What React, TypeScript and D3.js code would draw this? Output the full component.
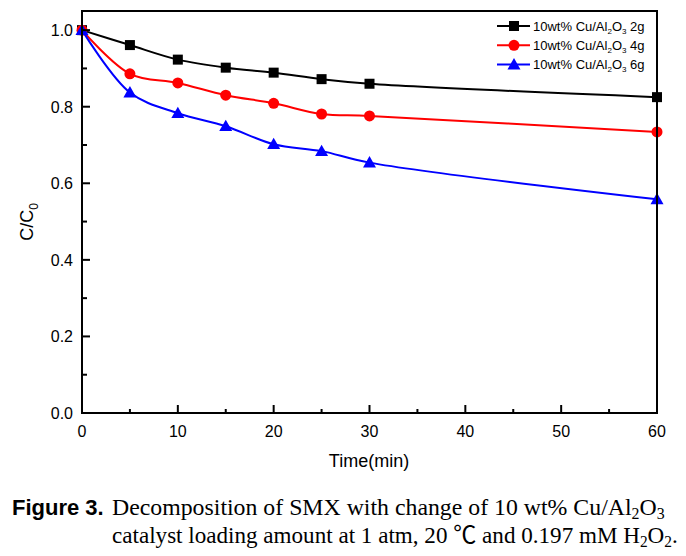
import React, { useEffect, useRef, useState } from "react";
import * as d3 from "d3";

const times = [0, 5, 10, 15, 20, 25, 30, 60];
const load2g = [1.0, 0.961, 0.923, 0.902, 0.889, 0.872, 0.86, 0.825];
const load4g = [1.0, 0.886, 0.862, 0.83, 0.809, 0.781, 0.776, 0.734];
const load6g = [1.0, 0.837, 0.783, 0.749, 0.702, 0.684, 0.654, 0.558];
const seriesNames = ["2g", "4g", "6g"];
const xTicks = [0, 10, 20, 30, 40, 50, 60];
const yTicks = [0.0, 0.2, 0.4, 0.6, 0.8, 1.0];

const W = 686, H = 556;
const L = 82, R = 657, T = 11, B = 413;

export default function App() {
  const x = d3.scaleLinear().domain([0, 60]).range([L, R]);
  const y = d3.scaleLinear().domain([0, 1.05]).range([B, T]);
  const colors = ["#000000", "#ff0000", "#0000ff"];
  const allSeries = [load2g, load4g, load6g];
  const line = d3
    .line<[number, number]>()
    .x((d) => x(d[0]))
    .y((d) => y(d[1]))
    .curve(d3.curveCatmullRom.alpha(0.5));

  const minorX = d3.range(5, 60, 10);
  const minorY = d3.range(0.1, 1.0, 0.2);

  const cap1 = useRef<SVGTextElement>(null);
  const cap2 = useRef<SVGTextElement>(null);
  const [sc, setSc] = useState<[number, number]>([1, 1]);
  useEffect(() => {
    const w1 = cap1.current ? cap1.current.getBBox().width : 553;
    const w2 = cap2.current ? cap2.current.getBBox().width : 566;
    setSc([553 / w1, 566 / w2]);
  }, []);

  const marker = (i: number, cx: number, cy: number, key: string) => {
    const c = colors[i];
    if (i === 0) return <rect key={key} x={cx - 5} y={cy - 5} width={10} height={10} fill={c} />;
    if (i === 1) return <circle key={key} cx={cx} cy={cy} r={5.5} fill={c} />;
    const s = 6.5;
    return (
      <path
        key={key}
        d={`M${cx},${cy - s}L${cx + s},${cy + s * 0.75}L${cx - s},${cy + s * 0.75}Z`}
        fill={c}
      />
    );
  };

  const sans = "'Liberation Sans', Arial, sans-serif";
  const serif = "'Liberation Serif', 'Times New Roman', 'Noto Sans CJK KR', serif";

  return (
    <svg width={W} height={H} style={{ position: "absolute", left: 0, top: 0, background: "#fff" }}>
      <rect width={W} height={H} fill="#fff" />
      {allSeries.map((vals, i) => (
        <g key={"s" + i}>
          <path
            d={line(times.map((t, j) => [t, vals[j]]) as [number, number][]) || ""}
            fill="none"
            stroke={colors[i]}
            strokeWidth={2}
          />
          {times.map((t, j) => marker(i, x(t), y(vals[j]), "m" + i + "-" + j))}
        </g>
      ))}
      <rect x={L} y={T} width={R - L} height={B - T} fill="none" stroke="#000" strokeWidth={2} />
      {xTicks.map((t) => (
        <g key={"xt" + t}>
          <line x1={x(t)} x2={x(t)} y1={B} y2={B - 8} stroke="#000" strokeWidth={2} />
          <text x={x(t)} y={437} textAnchor="middle" fontFamily={sans} fontSize={16}>
            {t}
          </text>
        </g>
      ))}
      {minorX.map((t) => (
        <line key={"xm" + t} x1={x(t)} x2={x(t)} y1={B} y2={B - 4} stroke="#000" strokeWidth={2} />
      ))}
      {yTicks.map((t) => (
        <g key={"yt" + t}>
          <line x1={L} x2={L + 8} y1={y(t)} y2={y(t)} stroke="#000" strokeWidth={2} />
          <text x={73} y={y(t) + 6} textAnchor="end" fontFamily={sans} fontSize={16}>
            {t.toFixed(1)}
          </text>
        </g>
      ))}
      {minorY.map((t) => (
        <line key={"ym" + t} x1={L} x2={L + 5} y1={y(t)} y2={y(t)} stroke="#000" strokeWidth={2} />
      ))}
      <text x={369} y={467} textAnchor="middle" fontFamily={sans} fontSize={18}>
        Time(min)
      </text>
      <text transform="translate(33,222) rotate(-90)" textAnchor="middle" fontFamily={sans} fontSize={18}>
        C/C
        <tspan fontSize={12} dy={5}>0</tspan>
      </text>
      {seriesNames.map((n, i) => {
        const ly = 26 + i * 19.3;
        return (
          <g key={"lg" + i}>
            <line x1={497} x2={530} y1={ly} y2={ly} stroke={colors[i]} strokeWidth={2} />
            {marker(i, 514, ly, "lm" + i)}
            <text x={533} y={ly + 4.5} fontFamily={sans} fontSize={13}>
              10wt% Cu/Al
              <tspan fontSize={8} dy={3}>2</tspan>
              <tspan dy={-3}>O</tspan>
              <tspan fontSize={8} dy={3}>3</tspan>
              <tspan dy={-3}> {n}</tspan>
            </text>
          </g>
        );
      })}
      <text x={12} y={515} fontFamily={sans} fontWeight="bold" fontSize={22}>
        Figure 3.
      </text>
      <g transform={`translate(112,515) scale(${sc[0]},1)`}>
        <text ref={cap1} x={0} y={0} fontFamily={serif} fontSize={24}>
          Decomposition of SMX with change of 10 wt% Cu/Al
          <tspan fontSize={16} dy={4}>2</tspan>
          <tspan dy={-4}>O</tspan>
          <tspan fontSize={16} dy={4}>3</tspan>
        </text>
      </g>
      <g transform={`translate(112,543) scale(${sc[1]},1)`}>
        <text ref={cap2} x={0} y={0} fontFamily={serif} fontSize={24}>
          catalyst loading amount at 1 atm, 20 ℃ and 0.197 mM H
          <tspan fontSize={16} dy={4}>2</tspan>
          <tspan dy={-4}>O</tspan>
          <tspan fontSize={16} dy={4}>2</tspan>
          <tspan dy={-4}>.</tspan>
        </text>
      </g>
    </svg>
  );
}
